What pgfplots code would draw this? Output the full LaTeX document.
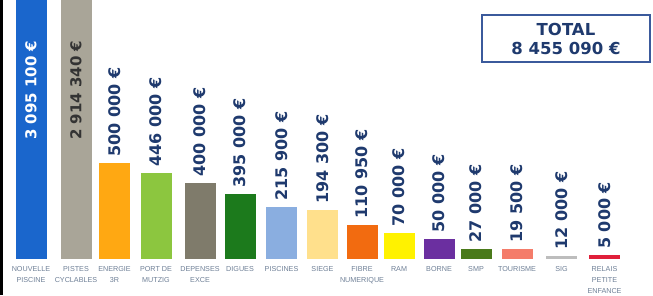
\documentclass[border=0pt]{standalone}
\usepackage{fontspec}
\setmainfont{DejaVu Sans}
\newfontfamily\catfont{Liberation Sans}
\usepackage{pgfplots}
\pgfplotsset{compat=1.18}
\definecolor{navy}{HTML}{1F3A6E}
\definecolor{catc}{HTML}{6E7F96}
\definecolor{boxc}{HTML}{3B5A9C}
\definecolor{cA}{HTML}{1A66CC}
\definecolor{cB}{HTML}{A9A598}
\definecolor{cC}{HTML}{FFA812}
\definecolor{cD}{HTML}{8CC63F}
\definecolor{cE}{HTML}{7F7B6B}
\definecolor{cF}{HTML}{1C7A1C}
\definecolor{cG}{HTML}{8AAEE0}
\definecolor{cH}{HTML}{FFE08C}
\definecolor{cI}{HTML}{F26B10}
\definecolor{cJ}{HTML}{FFF200}
\definecolor{cK}{HTML}{6B2FA0}
\definecolor{cL}{HTML}{4A7A1A}
\definecolor{cM}{HTML}{F47C6A}
\definecolor{cN}{HTML}{BDBDBD}
\definecolor{cO}{HTML}{E0203A}
\begin{document}
\begin{tikzpicture}
\begin{axis}[
  scale only axis, width=653pt, height=295pt,
  xmin=0, xmax=653, ymin=-36, ymax=259,
  axis line style={draw=none}, tick style={draw=none},
  ytick=\empty,
  xtick={31,76,114.5,156,200,240,281.5,322.5,362,399,439,476,517,561.5,604.5},
  xticklabels={{NOUVELLE\\PISCINE},{PISTES\\CYCLABLES},{ENERGIE\\3R},{PORT DE\\MUTZIG},{DEPENSES\\EXCE},{DIGUES},{PISCINES},{SIEGE},{FIBRE\\NUMERIQUE},{RAM},{BORNE},{SMP},{TOURISME},{SIG},{RELAIS\\PETITE\\ENFANCE}},
  xticklabel style={align=center, font=\catfont\fontsize{7.2}{11.2}\selectfont, text=catc, anchor=north, yshift=33pt, inner sep=0pt},
  ybar, bar width=31,
  nodes near coords, point meta=explicit symbolic,
  nodes near coords style={rotate=90, anchor=west, font=\bfseries\fontsize{16}{16}\selectfont, text=navy, inner xsep=6pt, inner ysep=0pt},
]
\addplot[fill=cA, draw=none, bar shift=0pt, nodes near coords={}] coordinates {(31,300) [x]};
\addplot[fill=cB, draw=none, bar shift=0pt, nodes near coords={}] coordinates {(76,300) [x]};
\addplot[fill=cC, draw=none, bar shift=0pt] coordinates {(114.5,96) [500 000 €]};
\addplot[fill=cD, draw=none, bar shift=0pt] coordinates {(156,86) [446 000 €]};
\addplot[fill=cE, draw=none, bar shift=0pt] coordinates {(200,76) [400 000 €]};
\addplot[fill=cF, draw=none, bar shift=0pt] coordinates {(240,65) [395 000 €]};
\addplot[fill=cG, draw=none, bar shift=0pt] coordinates {(281.5,52) [215 900 €]};
\addplot[fill=cH, draw=none, bar shift=0pt] coordinates {(322.5,49) [194 300 €]};
\addplot[fill=cI, draw=none, bar shift=0pt] coordinates {(362,34) [110 950 €]};
\addplot[fill=cJ, draw=none, bar shift=0pt] coordinates {(399,26) [70 000 €]};
\addplot[fill=cK, draw=none, bar shift=0pt] coordinates {(439,20) [50 000 €]};
\addplot[fill=cL, draw=none, bar shift=0pt] coordinates {(476,10) [27 000 €]};
\addplot[fill=cM, draw=none, bar shift=0pt] coordinates {(517,10) [19 500 €]};
\addplot[fill=cN, draw=none, bar shift=0pt] coordinates {(561.5,3) [12 000 €]};
\addplot[fill=cO, draw=none, bar shift=0pt] coordinates {(604.5,4) [5 000 €]};
\node[rotate=90, anchor=west, inner sep=0pt, font=\bfseries\fontsize{15}{15}\selectfont, text=white] at (axis cs:31,119) {3 095 100 €};
\node[rotate=90, anchor=west, inner sep=0pt, font=\bfseries\fontsize{15}{15}\selectfont, text=black!80] at (axis cs:76,119) {2 914 340 €};
\node[draw=boxc, line width=1.5pt, minimum width=168pt, minimum height=47pt, align=center, text=navy, font=\bfseries\fontsize{16.5}{19}\selectfont] at (axis cs:566,220.5) {TOTAL\\8 455 090 €};
\draw[black, line width=3pt] (axis cs:1.5,-36) -- (axis cs:1.5,259);
\end{axis}
\pgfresetboundingbox
\useasboundingbox (current axis.south west) rectangle (current axis.north east);
\end{tikzpicture}
\end{document}
